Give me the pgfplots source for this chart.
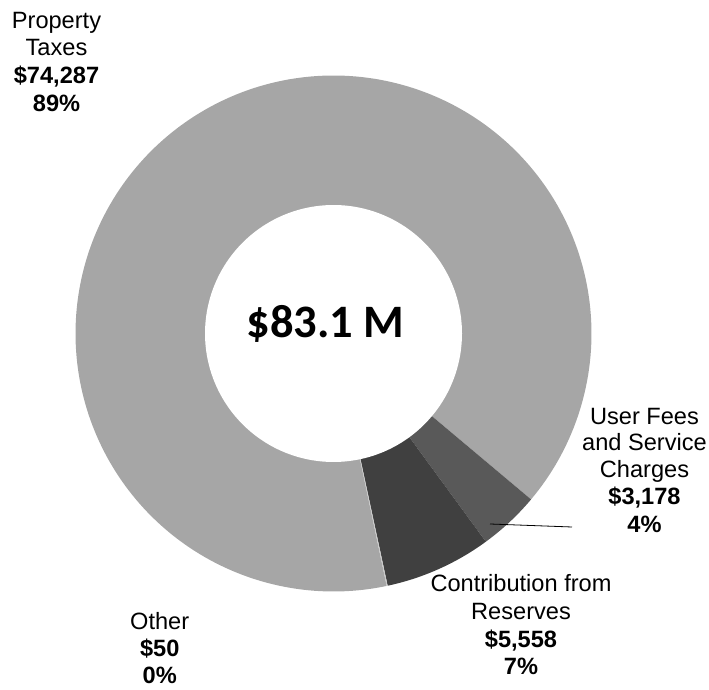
\documentclass[border=0pt]{standalone}
\usepackage{pgfplots}
\pgfplotsset{compat=1.18}
\usepackage{fontspec}
\setmainfont{Liberation Sans}
\newfontfamily\calibri{Carlito}

\definecolor{cTax}{HTML}{A6A6A6}
\definecolor{cFees}{HTML}{595959}
\definecolor{cRes}{HTML}{404040}
\definecolor{cOther}{HTML}{C8C8C8}

% revenue, $000
\def\vTax{74287}
\def\vFees{3178}
\def\vRes{5558}
\def\vOther{50}

% ring geometry (1pt = 1px of the reference)
\def\cx{333.5}
\def\cy{356.5}
\def\R{258}
\def\r{128.5}

\newcommand\lbl[3]{\node[anchor=base,inner sep=0pt,font=\fontsize{23.6}{28}\selectfont] at (#1,690-#2) {#3};}

\begin{document}
\begin{tikzpicture}[x=1pt,y=1pt]
\useasboundingbox (0,0) rectangle (709,690);
% slice angles, clockwise from the first slice
\edef\tot{\fpeval{\vTax+\vFees+\vRes+\vOther}}
\edef\aA{-78.1}
\edef\aB{\fpeval{\aA-360*\vTax/\tot}}
\edef\aC{\fpeval{\aB-360*\vFees/\tot}}
\edef\aD{\fpeval{\aC-360*\vRes/\tot}}
\edef\aE{\fpeval{\aD-360*\vOther/\tot}}
\begin{axis}[
    at={(0,0)}, anchor=origin,
    hide axis, scale only axis,
    width=709pt, height=690pt,
    xmin=0, xmax=709, ymin=0, ymax=690,
    clip=false,
]
\addplot[fill=cTax, draw=none, domain=\aB:\aA, samples=240]
    ({\cx+\R*cos(x)},{\cy+\R*sin(x)}) -- (\cx,\cy) -- cycle;
\addplot[fill=cFees, draw=none, domain=\aC:\aB, samples=20]
    ({\cx+\R*cos(x)},{\cy+\R*sin(x)}) -- (\cx,\cy) -- cycle;
\addplot[fill=cRes, draw=none, domain=\aD:\aC, samples=30]
    ({\cx+\R*cos(x)},{\cy+\R*sin(x)}) -- (\cx,\cy) -- cycle;
\addplot[fill=cOther, draw=none, domain=\aE:\aD, samples=3]
    ({\cx+\R*cos(x)},{\cy+\R*sin(x)}) -- (\cx,\cy) -- cycle;
% hole
\addplot[fill=white, draw=none, domain=0:360, samples=200]
    ({\cx+\r*cos(x)},{\cy+\r*sin(x)}) -- cycle;
\end{axis}

\draw[black, line width=0.8pt] (490,690-524) -- (572,690-527);

\node[anchor=base,inner sep=0pt,font=\calibri\bfseries\fontsize{46.5}{50}\selectfont]
    at (325.5,690-337.3) {\$83.1 M};

\lbl{56.5}{28.3}{Property}
\lbl{56.5}{55.5}{Taxes}
\lbl{56.5}{83.3}{\bfseries\$74,287}
\lbl{56.5}{111.3}{\bfseries 89\%}

\lbl{644.5}{425}{User Fees}
\lbl{644.5}{451}{and Service}
\lbl{644.5}{477.5}{Charges}
\lbl{644.5}{505}{\bfseries\$3,178}
\lbl{644.5}{532.5}{\bfseries 4\%}

\lbl{521}{591.7}{Contribution from}
\lbl{521}{619.3}{Reserves}
\lbl{521}{647.3}{\bfseries\$5,558}
\lbl{521}{675}{\bfseries 7\%}

\lbl{159.7}{630}{Other}
\lbl{159.7}{656.7}{\bfseries\$50}
\lbl{159.7}{684}{\bfseries 0\%}
\end{tikzpicture}
\end{document}
